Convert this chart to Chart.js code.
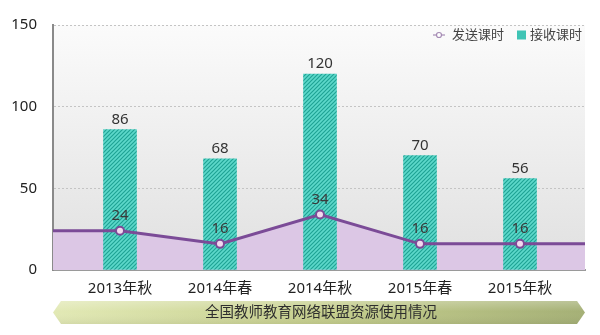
<!DOCTYPE html>
<html>
<head>
<meta charset="utf-8">
<script src="https://cdn.jsdelivr.net/npm/chart.js@4.4.0/dist/chart.umd.min.js"></script>
<style>
  body { margin: 0; background: #fff; }
  canvas { display: block; }
</style>
</head>
<body>
<canvas id="chart" width="600" height="335"></canvas>
<script>
var terms = ['2013年秋', '2014年春', '2014年秋', '2015年春', '2015年秋'];
var sendHours = [24, 16, 34, 16, 16];
var recvHours = [86, 68, 120, 70, 56];
var yTicks = [0, 50, 100, 150];
var seriesNames = ['发送课时', '接收课时'];
var footerTitle = '全国教师教育网络联盟资源使用情况';

// x runs a bit past the first/last term so the line reaches the plot edges
var xMin = -0.67, xMax = 4.65;
var FONT = '"Noto Sans", "Noto Sans CJK SC", sans-serif';
var purple = '#7b4b97';
var lilac = '#dcc7e5';
var teal = '#3fc4b5';

var canvas = document.getElementById('chart');
var ctx = canvas.getContext('2d');

function stripes() {
    var c = document.createElement('canvas');
    c.width = 4; c.height = 4;
    var g = c.getContext('2d');
    g.fillStyle = '#5dd8ca';
    g.fillRect(0, 0, 4, 4);
    g.strokeStyle = '#1fa294';
    g.lineWidth = 1.15;
    g.beginPath();
    g.moveTo(-1, 5); g.lineTo(5, -1);
    g.moveTo(-1, 1); g.lineTo(1, -1);
    g.moveTo(3, 5); g.lineTo(5, 3);
    g.stroke();
    return ctx.createPattern(c, 'repeat');
}

var linePts = [{x: xMin, y: sendHours[0]}]
    .concat(sendHours.map((v, i) => ({x: i, y: v})))
    .concat([{x: xMax, y: sendHours[sendHours.length - 1]}]);
var pointSizes = linePts.map((p) => (p.x === xMin || p.x === xMax) ? 0 : 4);

const backdrop = {
    id: 'backdrop',
    beforeDraw: (chart) => {
        const c = chart.ctx, a = chart.chartArea;
        c.save();
        c.fillStyle = '#fff';
        c.fillRect(0, 0, chart.width, chart.height);
        var grad = c.createLinearGradient(0, a.top, 0, a.bottom);
        grad.addColorStop(0, '#fbfbfb');
        grad.addColorStop(1, '#e0e0e0');
        c.fillStyle = grad;
        c.fillRect(a.left, a.top, a.right - a.left, a.bottom - a.top);
        c.restore();
    }
};

const valueLabels = {
    id: 'valueLabels',
    afterDatasetsDraw: (chart) => {
        const c = chart.ctx;
        c.save();
        c.font = '15px ' + FONT;
        c.textAlign = 'center';
        c.textBaseline = 'middle';
        c.fillStyle = '#333';
        chart.getDatasetMeta(2).data.forEach((el, i) => {
            c.fillText(recvHours[i], el.x, el.y - 10);
        });
        c.fillStyle = '#3a3a3a';
        chart.getDatasetMeta(0).data.forEach((el, i) => {
            if (pointSizes[i] === 0) return;
            c.fillText(sendHours[i - 1], el.x, el.y - 15);
        });
        c.restore();
    }
};

const legendAndBanner = {
    id: 'legendAndBanner',
    afterDraw: (chart) => {
        const c = chart.ctx;
        c.save();
        // legend
        c.font = '13px ' + FONT;
        c.textBaseline = 'middle';
        c.textAlign = 'left';
        var ly = 35;
        c.strokeStyle = '#a58bb4';
        c.lineWidth = 1.2;
        c.beginPath(); c.moveTo(433, ly); c.lineTo(445, ly); c.stroke();
        c.fillStyle = '#fff';
        c.beginPath(); c.arc(439, ly, 2.5, 0, Math.PI * 2); c.fill(); c.stroke();
        c.fillStyle = '#444';
        c.fillText(seriesNames[0], 452, ly);
        c.fillStyle = teal;
        c.fillRect(517, ly - 4.5, 9, 9);
        c.fillStyle = '#444';
        c.fillText(seriesNames[1], 530, ly);

        // footer ribbon
        var l = 53, r = 585, t = 301, b = 324, m = (t + b) / 2, n = 8;
        c.beginPath();
        c.moveTo(l, m); c.lineTo(l + n, t); c.lineTo(r - n, t);
        c.lineTo(r, m); c.lineTo(r - n, b); c.lineTo(l + n, b);
        c.closePath();
        var g = c.createLinearGradient(l, 0, r, 0);
        g.addColorStop(0, '#e2e9b5');
        g.addColorStop(0.5, '#c6cf8e');
        g.addColorStop(1, '#a5b076');
        c.fillStyle = g;
        c.fill();
        var g2 = c.createLinearGradient(0, t, 0, b);
        g2.addColorStop(0, 'rgba(255,255,255,0.25)');
        g2.addColorStop(0.45, 'rgba(255,255,255,0)');
        g2.addColorStop(1, 'rgba(0,0,0,0.06)');
        c.fillStyle = g2;
        c.fill();
        c.font = '14.5px ' + FONT;
        c.textAlign = 'center';
        c.fillStyle = '#2e2e2e';
        c.fillText(footerTitle, 321, m);
        c.restore();
    }
};

var myChart = new Chart(ctx, {
    type: 'bar',
    data: {
        datasets: [{
            type: 'line',
            label: seriesNames[0],
            data: linePts,
            borderColor: purple,
            borderWidth: 3,
            pointRadius: pointSizes,
            pointBackgroundColor: '#f3d9ef',
            pointBorderColor: purple,
            pointBorderWidth: 2,
            tension: 0,
            order: 1
        }, {
            type: 'line',
            label: 'area',
            data: linePts,
            fill: 'origin',
            backgroundColor: lilac,
            borderWidth: 0,
            pointRadius: 0,
            tension: 0,
            order: 3
        }, {
            type: 'bar',
            label: seriesNames[1],
            data: recvHours.map((v, i) => ({x: i, y: v})),
            backgroundColor: stripes(),
            borderWidth: 0,
            barThickness: 33,
            order: 2
        }]
    },
    options: {
        responsive: false,
        animation: false,
        layout: { padding: { top: 22, right: 15, left: 0, bottom: 0 } },
        plugins: {
            legend: { display: false },
            tooltip: { enabled: false }
        },
        scales: {
            x: {
                type: 'linear',
                min: xMin,
                max: xMax,
                offset: false,
                grid: { display: false },
                border: { color: '#9a9a9a', width: 2 },
                afterBuildTicks: (scale) => {
                    scale.ticks = terms.map((_, i) => ({value: i}));
                },
                afterFit: (scale) => { scale.height = 65; },
                ticks: {
                    autoSkip: false,
                    maxRotation: 0,
                    padding: 2,
                    color: '#222',
                    font: { size: 15, family: FONT },
                    callback: (v) => terms[v]
                }
            },
            y: {
                min: 0,
                max: 150,
                afterBuildTicks: (scale) => {
                    scale.ticks = yTicks.map((v) => ({value: v}));
                },
                afterFit: (scale) => { scale.width = 53; },
                grid: {
                    drawTicks: false,
                    color: (c) => c.tick && c.tick.value === 0 ? 'rgba(0,0,0,0)' : '#c4c4c4',
                    lineWidth: 1
                },
                border: { color: '#8a8a8a', width: 2, dash: [2, 2] },
                ticks: {
                    padding: 16,
                    color: '#222',
                    font: { size: 15, family: FONT }
                }
            }
        }
    },
    plugins: [backdrop, valueLabels, legendAndBanner]
});
</script>
</body>
</html>
